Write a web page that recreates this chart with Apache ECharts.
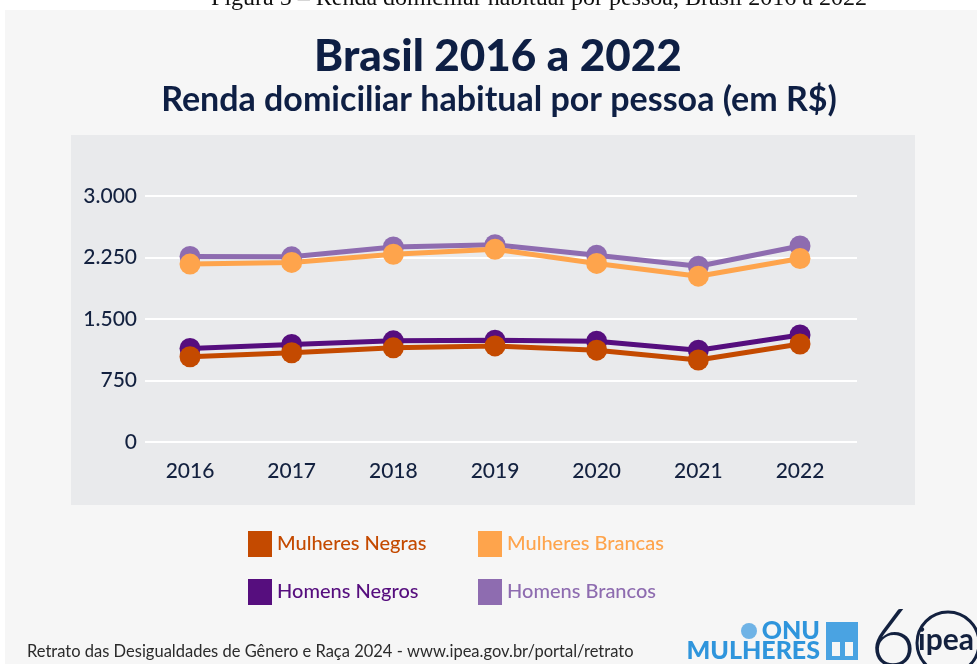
<!DOCTYPE html>
<html>
<head>
<meta charset="utf-8">
<script src="https://cdn.jsdelivr.net/npm/echarts@6/dist/echarts.min.js"></script>
<style>
  html, body { margin: 0; padding: 0; background: #fff; }
  #chart { width: 977px; height: 664px; }
</style>
</head>
<body>
<div id="chart"></div>
<script>
const years = ['2016', '2017', '2018', '2019', '2020', '2021', '2022']
const mulheresNegras = [1040, 1088, 1148, 1172, 1120, 1000, 1195]
const mulheresBrancas = [2170, 2190, 2290, 2350, 2178, 2022, 2238]
const homensNegros = [1140, 1190, 1234, 1242, 1230, 1120, 1306]
const homensBrancos = [2262, 2258, 2378, 2405, 2277, 2143, 2390]
const yTicks = [0, 750, 1500, 2250, 3000]

const C = {
  mn: '#c44a00', mb: '#fea44c', hn: '#560e7e', hb: '#8e6cb0',
  navy: '#13213f', font: 'Lato, "Noto Sans", sans-serif'
}

const chart = echarts.init(document.getElementById('chart'))

function fmt(v) {
  return String(v).replace(/\B(?=(\d{3})+(?!\d))/g, '.')
}

function line(name, data, color) {
  return {
    name, type: 'line', data, xAxisIndex: 1, yAxisIndex: 1,
    symbol: 'circle', symbolSize: 21,
    lineStyle: { color, width: 5 },
    itemStyle: { color },
    emphasis: { disabled: true },
    animation: false,
  }
}

function legendAt(name, color, left, top) {
  return {
    left, top, padding: 0, icon: 'rect', itemWidth: 24, itemHeight: 26, itemGap: 7,
    data: [{ name, textStyle: { color } }],
    textStyle: { fontSize: 20, fontFamily: C.font, fontWeight: 500, padding: [4, 0, 0, 0] },
    selectedMode: false,
  }
}

const axisText = { color: C.navy, fontSize: 21, fontFamily: C.font, fontWeight: 500 }

chart.setOption({
  backgroundColor: '#ffffff',
  title: [
    {
      text: 'Brasil 2016 a 2022', left: 493, top: 30, textAlign: 'center',
      textStyle: { fontSize: 44, fontWeight: 900, color: '#0e1f44', fontFamily: C.font },
    },
    {
      text: 'Renda domiciliar habitual por pessoa (em R$)', left: 494, top: 78, textAlign: 'center',
      textStyle: { fontSize: 34, fontWeight: 'bold', color: '#0e1f44', fontFamily: C.font },
    },
  ],
  graphic: [
    { type: 'rect', z: -10, shape: { x: 5, y: 10, width: 972, height: 654 }, style: { fill: '#f6f6f6' } },
    { type: 'rect', z: -9, shape: { x: 71, y: 135, width: 844, height: 370 }, style: { fill: '#e9eaec' } },
    {
      type: 'text', x: 539, y: 11,
      style: { text: 'Figura 5 – Renda domiciliar habitual por pessoa, Brasil 2016 a 2022', align: 'center', verticalAlign: 'bottom',
        font: '24px "Liberation Serif", serif', fill: '#111' }
    },
    {
      type: 'text', x: 27, y: 652,
      style: { text: 'Retrato das Desigualdades de Gênero e Raça 2024 - www.ipea.gov.br/portal/retrato', verticalAlign: 'middle',
        font: '16.5px Lato, sans-serif', fill: '#2b2b2b' }
    },
    // ONU Mulheres logo (approx.)
    { type: 'circle', shape: { cx: 749, cy: 631, r: 8 }, style: { fill: '#6fb3e6' } },
    { type: 'text', x: 820, y: 631, style: { text: 'ONU', align: 'right', verticalAlign: 'middle', font: '900 25px Lato, sans-serif', fill: '#2f95dc' } },
    { type: 'text', x: 820, y: 651, style: { text: 'MULHERES', align: 'right', verticalAlign: 'middle', font: '900 25px Lato, sans-serif', fill: '#2f95dc' } },
    { type: 'rect', shape: { x: 826, y: 622, width: 32, height: 38 }, style: { fill: '#4aa3e2' } },
    { type: 'rect', shape: { x: 832, y: 642, width: 8, height: 14 }, style: { fill: '#f6f6f6' } },
    { type: 'rect', shape: { x: 845, y: 642, width: 8, height: 14 }, style: { fill: '#f6f6f6' } },
    // ipea logo (approx.)
    { type: 'text', x: 893, y: 640, style: { text: '6', align: 'center', verticalAlign: 'middle', font: '300 80px Lato, sans-serif', fill: '#13213f' } },
    { type: 'circle', shape: { cx: 948, cy: 643, r: 31 }, style: { fill: 'none', stroke: '#13213f', lineWidth: 3 } },
    { type: 'text', x: 946, y: 640, style: { text: 'ipea', align: 'center', verticalAlign: 'middle', font: 'bold 30px Lato, sans-serif', fill: '#13213f' } },
  ],
  legend: [
    legendAt('Mulheres Negras', C.mn, 248, 531),
    legendAt('Mulheres Brancas', C.mb, 478, 531),
    legendAt('Homens Negros', C.hn, 248, 579),
    legendAt('Homens Brancos', C.hb, 478, 579),
  ],
  grid: [
    { left: 145, right: 120, top: 196, bottom: 222 },
    { left: 190, right: 177, top: 196, bottom: 222 },
  ],
  xAxis: [
    { gridIndex: 0, type: 'value', show: false, min: 0, max: 1 },
    {
      gridIndex: 1, type: 'category', data: years, boundaryGap: false,
      axisLine: { show: false }, axisTick: { show: false },
      axisLabel: { ...axisText, margin: 19 },
    },
  ],
  yAxis: [
    {
      gridIndex: 0, type: 'value', min: yTicks[0], max: yTicks[yTicks.length - 1], interval: 750,
      axisLine: { show: false }, axisTick: { show: false },
      splitLine: { lineStyle: { color: '#ffffff', width: 2 } },
      axisLabel: { ...axisText, margin: 8, formatter: fmt },
    },
    { gridIndex: 1, type: 'value', min: 0, max: 3000, show: false },
  ],
  series: [
    line('Homens Brancos', homensBrancos, C.hb),
    line('Homens Negros', homensNegros, C.hn),
    line('Mulheres Brancas', mulheresBrancas, C.mb),
    line('Mulheres Negras', mulheresNegras, C.mn),
  ],
})
</script>
</body>
</html>
